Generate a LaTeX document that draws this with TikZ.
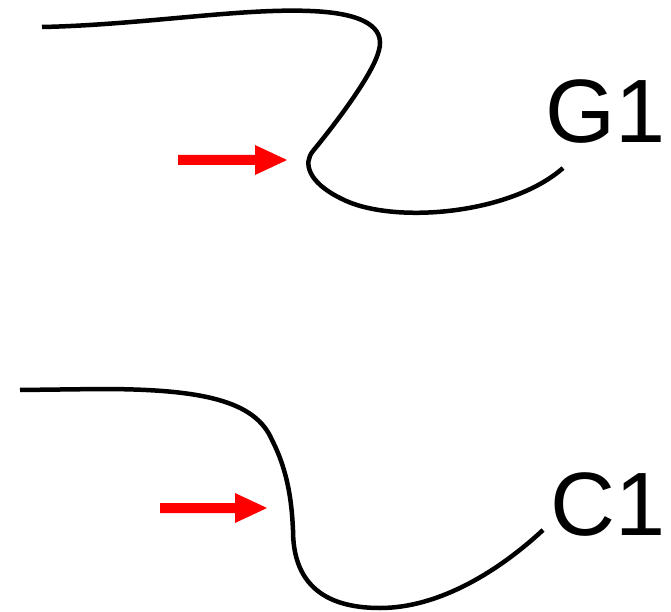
\documentclass[tikz,border=0pt]{standalone}
\usepackage{fontspec}
\setmainfont{Liberation Sans}
\begin{document}
\begin{tikzpicture}[x=1pt,y=-1pt,
  strand/.style={line width=4.5pt, black, line cap=butt},
  pointer/.style={fill=red, draw=none},
  label/.style={font=\fontsize{90}{90}\selectfont, inner sep=0pt, anchor=base west}]
\useasboundingbox (0,0) rectangle (671,612);

% upper strand
\coordinate (g0) at (42,27);
\coordinate (g1) at (563,168);
\draw[strand] (g0) .. controls (140,25) and (240,8) .. (310,11)
  .. controls (365,13) and (385,28) .. (379,50)
  .. controls (374,72) and (340,118) .. (313,151)
  .. controls (303,163) and (308,182) .. (340,198)
  .. controls (390,225) and (510,215) .. (g1);
\node[label] (G) at (545,143) {G1};

% lower strand
\coordinate (c0) at (20,390);
\coordinate (c1) at (543,530);
\draw[strand] (c0) -- (100,389)
  .. controls (200,389) and (255,400) .. (272,440)
  .. controls (290,475) and (292,510) .. (293,530)
  .. controls (293,580) and (320,608) .. (380,608)
  .. controls (440,608) and (500,570) .. (c1);
\node[label] (C) at (550,535) {C1};

% red pointers
\fill[pointer] (178,155) -- (255,155) -- (255,145) -- (287,160) -- (255,175) -- (255,165) -- (178,165) -- cycle;
\fill[pointer] (160,503) -- (235,503) -- (235,493) -- (267,508) -- (235,523) -- (235,513) -- (160,513) -- cycle;
\end{tikzpicture}
\end{document}
